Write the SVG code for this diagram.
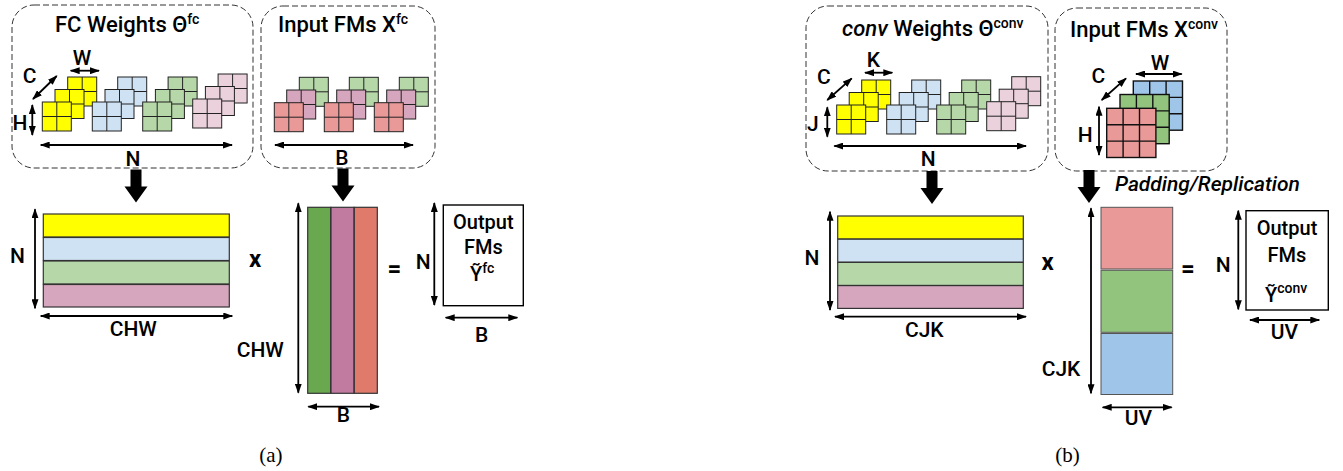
<svg xmlns="http://www.w3.org/2000/svg" xmlns:xlink="http://www.w3.org/1999/xlink" width="1343" height="471" viewBox="0 0 1343 471">
<style>
.t{font-family:Roboto,"Liberation Sans",sans-serif;font-weight:500;font-size:21px;fill:#000}
.ttl{font-size:22px}
.sup{font-size:14px}
.ob{font-size:20px}
.mid{text-anchor:middle}
.op{font-weight:700;font-size:24px}
.dash{fill:none;stroke:#333;stroke-width:1;stroke-dasharray:6 3}
.dim{stroke:#000;stroke-width:1.8;fill:none;marker-start:url(#ah);marker-end:url(#ah)}
.cs{stroke:#222;stroke-width:1}
.cs3{stroke:#111;stroke-width:1.4}
.bar{stroke:#333;stroke-width:1.2}
.box{fill:#fff;stroke:#000;stroke-width:1.4}
.cap{font-family:"Liberation Serif",serif;font-size:21px;fill:#000;text-anchor:middle}
</style>
<defs>
<marker id="ah" viewBox="0 0 10 7" refX="9" refY="3.5" markerWidth="10" markerHeight="7" markerUnits="userSpaceOnUse" orient="auto-start-reverse">
<path d="M0,0 L10,3.5 L0,7 z" fill="#000"/>
</marker>
<g id="b2" class="cs"><rect width="29" height="29"/><line x1="14.5" y1="0" x2="14.5" y2="29"/><line x1="0" y1="14.5" x2="29" y2="14.5"/></g>
<g id="b3" class="cs3"><rect width="49.2" height="49.2"/><line x1="16.4" y1="0" x2="16.4" y2="49.2"/><line x1="32.8" y1="0" x2="32.8" y2="49.2"/><line x1="0" y1="16.4" x2="49.2" y2="16.4"/><line x1="0" y1="32.8" x2="49.2" y2="32.8"/></g>
<path id="dn" d="M-5.5,0 L5.5,0 L5.5,17 L11.5,17 L0,33 L-11.5,17 L-5.5,17 z" fill="#000"/>
</defs>
<rect width="1343" height="471" fill="#fff"/>

<g id="fc-weights">
<rect class="dash" x="12" y="5" width="241" height="163" rx="22"/>
<text class="t ttl" x="55" y="32">FC Weights Θ<tspan class="sup" dy="-8">fc</tspan></text>
<use href="#b2" x="67.7" y="77" fill="#FFFF00"/><use href="#b2" x="55" y="89.5" fill="#FFFF00"/><use href="#b2" x="42.3" y="102" fill="#FFFF00"/>
<use href="#b2" x="117.7" y="77" fill="#CFE2F3"/><use href="#b2" x="105" y="89.5" fill="#CFE2F3"/><use href="#b2" x="92.3" y="102" fill="#CFE2F3"/>
<use href="#b2" x="168.1" y="77" fill="#B6D7A8"/><use href="#b2" x="155.4" y="89.5" fill="#B6D7A8"/><use href="#b2" x="142.7" y="102" fill="#B6D7A8"/>
<use href="#b2" x="218.1" y="74" fill="#EAD1DC"/><use href="#b2" x="205.4" y="86.5" fill="#EAD1DC"/><use href="#b2" x="192.7" y="99" fill="#EAD1DC"/>
<line class="dim" x1="70.7" y1="70.7" x2="99" y2="70.7"/>
<text class="t mid" x="82" y="65">W</text>
<line class="dim" x1="33" y1="99" x2="56.7" y2="76"/>
<text class="t mid" x="29.5" y="83">C</text>
<line class="dim" x1="32.3" y1="105" x2="32.3" y2="135"/>
<text class="t mid" x="20" y="130">H</text>
<line class="dim" x1="40.7" y1="145" x2="232" y2="145"/>
<text class="t mid" x="133" y="166">N</text>
</g>

<g id="fc-input">
<rect class="dash" x="261" y="6" width="174" height="162" rx="22"/>
<text class="t ttl" x="278" y="32">Input FMs X<tspan class="sup" dy="-8">fc</tspan></text>
<use href="#b2" x="299.3" y="77.3" fill="#B6D7A8"/><use href="#b2" x="286.7" y="90" fill="#D5A6BD"/><use href="#b2" x="274.3" y="102.7" fill="#EA9999"/>
<use href="#b2" x="349.3" y="77.3" fill="#B6D7A8"/><use href="#b2" x="336.7" y="90" fill="#D5A6BD"/><use href="#b2" x="324.3" y="102.7" fill="#EA9999"/>
<use href="#b2" x="399.3" y="77.3" fill="#B6D7A8"/><use href="#b2" x="386.7" y="90" fill="#D5A6BD"/><use href="#b2" x="374.3" y="102.7" fill="#EA9999"/>
<line class="dim" x1="275" y1="145" x2="413" y2="145"/>
<text class="t mid" x="342" y="165">B</text>
</g>

<g id="fc-weight-matrix">
<rect class="bar" x="43.3" y="214" width="186" height="23" fill="#FFFF00"/>
<rect class="bar" x="43.3" y="237.5" width="186" height="23" fill="#CFE2F3"/>
<rect class="bar" x="43.3" y="261" width="186" height="23" fill="#B6D7A8"/>
<rect class="bar" x="43.3" y="284.5" width="186" height="22.5" fill="#D5A6BD"/>
<line class="dim" x1="35" y1="209.3" x2="35" y2="308.3"/>
<text class="t mid" x="17.5" y="263">N</text>
<line class="dim" x1="40.7" y1="316" x2="232.3" y2="316"/>
<text class="t mid" x="133.3" y="336">CHW</text>
</g>

<text id="fc-times" class="t op mid" x="255" y="267">x</text>

<g id="fc-input-matrix">
<rect class="bar" x="307.7" y="207.3" width="23" height="186" fill="#6AA84F"/>
<rect class="bar" x="331" y="207.3" width="23" height="186" fill="#C27BA0"/>
<rect class="bar" x="354.3" y="207.3" width="23" height="186" fill="#E07B6B"/>
<line class="dim" x1="298.3" y1="203.3" x2="298.3" y2="392.7"/>
<text class="t" x="236.7" y="357">CHW</text>
<line class="dim" x1="308.3" y1="406.7" x2="379" y2="406.7"/>
<text class="t mid" x="343.3" y="422">B</text>
</g>

<text id="fc-equals" class="t op mid" x="394.5" y="277">=</text>

<g id="fc-output">
<rect class="box" x="443.3" y="205" width="80" height="100.7"/>
<text class="t ob mid" x="483.3" y="228.5">Output</text>
<text class="t ob mid" x="483.3" y="253.5">FMs</text>
<text class="t ob" x="470" y="281">Ỹ<tspan class="sup" font-size="13" dy="-8">fc</tspan></text>
<line class="dim" x1="434.3" y1="203" x2="434.3" y2="305"/>
<text class="t mid" x="423.3" y="269">N</text>
<line class="dim" x1="445.7" y1="317.7" x2="517.3" y2="317.7"/>
<text class="t mid" x="481.7" y="342">B</text>
</g>

<g id="conv-weights">
<rect class="dash" x="806" y="6" width="242" height="165" rx="22"/>
<text class="t ttl" x="842" y="35.7"><tspan font-style="italic">conv</tspan> Weights Θ<tspan class="sup" dy="-8">conv</tspan></text>
<use href="#b2" x="861.7" y="80" fill="#FFFF00"/><use href="#b2" x="849.2" y="92.5" fill="#FFFF00"/><use href="#b2" x="836.7" y="105" fill="#FFFF00"/>
<use href="#b2" x="911.7" y="80" fill="#CFE2F3"/><use href="#b2" x="899.2" y="92.5" fill="#CFE2F3"/><use href="#b2" x="886.7" y="105" fill="#CFE2F3"/>
<use href="#b2" x="961.7" y="80" fill="#B6D7A8"/><use href="#b2" x="949.2" y="92.5" fill="#B6D7A8"/><use href="#b2" x="936.7" y="105" fill="#B6D7A8"/>
<use href="#b2" x="1011.7" y="76.7" fill="#EAD1DC"/><use href="#b2" x="999.2" y="89.2" fill="#EAD1DC"/><use href="#b2" x="986.7" y="101.7" fill="#EAD1DC"/>
<line class="dim" x1="865" y1="72.7" x2="892.3" y2="72.7"/>
<text class="t mid" x="873.3" y="66.7">K</text>
<line class="dim" x1="827.3" y1="100" x2="851.7" y2="78.3"/>
<text class="t mid" x="823.8" y="84.3">C</text>
<line class="dim" x1="827.3" y1="107.3" x2="827.3" y2="136.7"/>
<text class="t mid" x="812.8" y="130.7">J</text>
<line class="dim" x1="834.3" y1="146" x2="1026" y2="146"/>
<text class="t mid" x="928.3" y="166">N</text>
</g>

<g id="conv-input">
<rect class="dash" x="1055" y="8" width="172" height="163" rx="22"/>
<text class="t ttl" x="1070" y="36.7">Input FMs X<tspan class="sup" dy="-8">conv</tspan></text>
<use href="#b3" x="1133.3" y="81" fill="#9FC5E8"/>
<use href="#b3" x="1120" y="94.5" fill="#93C47D"/>
<use href="#b3" x="1106.7" y="108.3" fill="#EA9999"/>
<line class="dim" x1="1136" y1="74" x2="1181.7" y2="74"/>
<text class="t mid" x="1160" y="69.5">W</text>
<line class="dim" x1="1101.7" y1="100" x2="1126" y2="78.3"/>
<text class="t mid" x="1098.3" y="83.3">C</text>
<line class="dim" x1="1099" y1="106.7" x2="1099" y2="155"/>
<text class="t mid" x="1085.3" y="141.7">H</text>
</g>

<text id="padding-label" class="t" x="1115" y="190.7" font-size="14" font-style="italic">Padding/Replication</text>

<g id="conv-weight-matrix">
<rect class="bar" x="837.7" y="216" width="185.6" height="23" fill="#FFFF00"/>
<rect class="bar" x="837.7" y="239.2" width="185.6" height="23" fill="#CFE2F3"/>
<rect class="bar" x="837.7" y="262.4" width="185.6" height="23" fill="#B6D7A8"/>
<rect class="bar" x="837.7" y="285.6" width="185.6" height="22.8" fill="#D5A6BD"/>
<line class="dim" x1="830" y1="211.7" x2="830" y2="310"/>
<text class="t mid" x="812" y="264.5">N</text>
<line class="dim" x1="835" y1="316.7" x2="1026" y2="316.7"/>
<text class="t mid" x="924.3" y="337">CJK</text>
</g>

<text id="conv-times" class="t op mid" x="1047.5" y="269.5">x</text>

<g id="conv-input-matrix">
<rect x="1101" y="207.3" width="71.7" height="61.7" fill="#EA9999" stroke="#555" stroke-width="1"/>
<rect x="1101" y="270.3" width="71.7" height="62" fill="#93C47D" stroke="#555" stroke-width="1"/>
<rect x="1101" y="333.5" width="71.7" height="61" fill="#9FC5E8" stroke="#555" stroke-width="1"/>
<line class="dim" x1="1091" y1="208.3" x2="1091" y2="393.3"/>
<text class="t" x="1041.7" y="376">CJK</text>
<line class="dim" x1="1102.7" y1="407.3" x2="1171.7" y2="407.3"/>
<text class="t mid" x="1138.3" y="425">UV</text>
</g>

<text id="conv-equals" class="t op mid" x="1187.8" y="276.5">=</text>

<g id="conv-output">
<rect class="box" x="1246" y="210.7" width="82.3" height="99.3"/>
<text class="t ob mid" x="1287" y="235">Output</text>
<text class="t ob mid" x="1287" y="261.7">FMs</text>
<text class="t ob" x="1265" y="301.5">Ỹ<tspan class="sup" font-size="13" dy="-9">conv</tspan></text>
<line class="dim" x1="1238.3" y1="210.7" x2="1238.3" y2="309.3"/>
<text class="t mid" x="1223.3" y="272">N</text>
<line class="dim" x1="1250" y1="320" x2="1319.3" y2="320"/>
<text class="t mid" x="1284.5" y="338.5">UV</text>
</g>

<g id="connectors">
<use href="#dn" x="136" y="169.5"/>
<use href="#dn" x="343" y="168.5"/>
<use href="#dn" x="932" y="171"/>
<use href="#dn" x="1089" y="170"/>
</g>

<text class="cap" x="270.8" y="462">(a)</text>
<text class="cap" x="1067.5" y="462">(b)</text>
</svg>
